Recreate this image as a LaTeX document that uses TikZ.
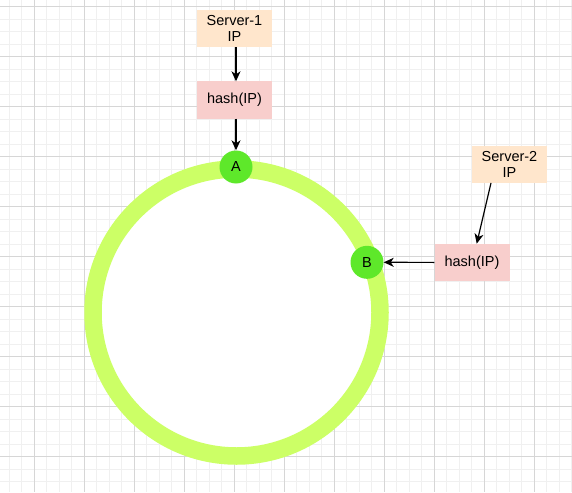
\documentclass[tikz,border=0pt]{standalone}
\usepackage{fontspec}
\setmainfont{Liberation Sans}
\usetikzlibrary{arrows.meta}
\definecolor{gridminor}{RGB}{240,240,240}
\definecolor{gridmajor}{RGB}{214,214,214}
\definecolor{ringcol}{RGB}{204,255,102}
\definecolor{nodegreen}{RGB}{94,232,42}
\definecolor{ipfill}{RGB}{255,230,204}
\definecolor{hashfill}{RGB}{248,206,204}
\tikzset{
  ipbox/.style={rectangle, fill=ipfill, minimum width=75pt, minimum height=37pt, align=center, inner sep=0pt, font=\fontsize{14.5}{16}\selectfont},
  hashbox/.style={rectangle, fill=hashfill, minimum width=75pt, minimum height=37pt, align=center, inner sep=0pt, font=\fontsize{14.5}{16}\selectfont},
  ringnode/.style={circle, fill=nodegreen, minimum size=33pt, inner sep=0pt, font=\fontsize{14.5}{16}\selectfont},
  conn/.style={-{Stealth[length=10pt,width=9pt,inset=3pt]}, line width=1.2pt, black}
}
\begin{document}
\begin{tikzpicture}[x=1pt,y=-1pt]
\useasboundingbox (0,0) rectangle (572,492);
\fill[white] (0,0) rectangle (572,492);
% grid
\foreach \i in {0,...,45} {
  \draw[gridminor, line width=0.8pt] ({9+12.5*\i},0) -- ({9+12.5*\i},492);
}
\foreach \i in {0,...,39} {
  \draw[gridminor, line width=0.8pt] (0,{6.5+12.5*\i}) -- (572,{6.5+12.5*\i});
}
\foreach \i in {0,...,11} {
  \draw[gridmajor, line width=0.9pt] ({34+50*\i},0) -- ({34+50*\i},492);
}
\foreach \i in {0,...,9} {
  \draw[gridmajor, line width=0.9pt] (0,{6.5+50*\i}) -- (572,{6.5+50*\i});
}
% ring
\coordinate (ctr) at (236.5,312.5);
\fill[white] (ctr) circle[radius=152pt];
\draw[ringcol, line width=17.5pt] (ctr) circle[radius=143.5pt];
% nodes
\node[ipbox] (ip1) at (234.5,28.7) {Server-1\\IP};
\node[hashbox] (h1) at (234.5,100) {hash(IP)};
\node[ringnode] (A) at (236,167) {A};
\node[ipbox] (ip2) at (509.5,164.2) {Server-2\\IP};
\node[hashbox] (h2) at (472,262.4) {hash(IP)};
\node[ringnode] (B) at (367,262.3) {B};
% connectors
\coordinate (s2) at ([xshift=-18.5pt]ip2.south);
\coordinate (e2) at ([xshift=4.7pt]h2.north);
\draw[conn] (ip1.south -| A) -- (h1.north -| A);
\draw[conn] (h1.south -| A) -- (A.north);
\draw[conn] (s2) -- (e2);
\draw[conn] (h2.west) -- (B.east);
\end{tikzpicture}
\end{document}
